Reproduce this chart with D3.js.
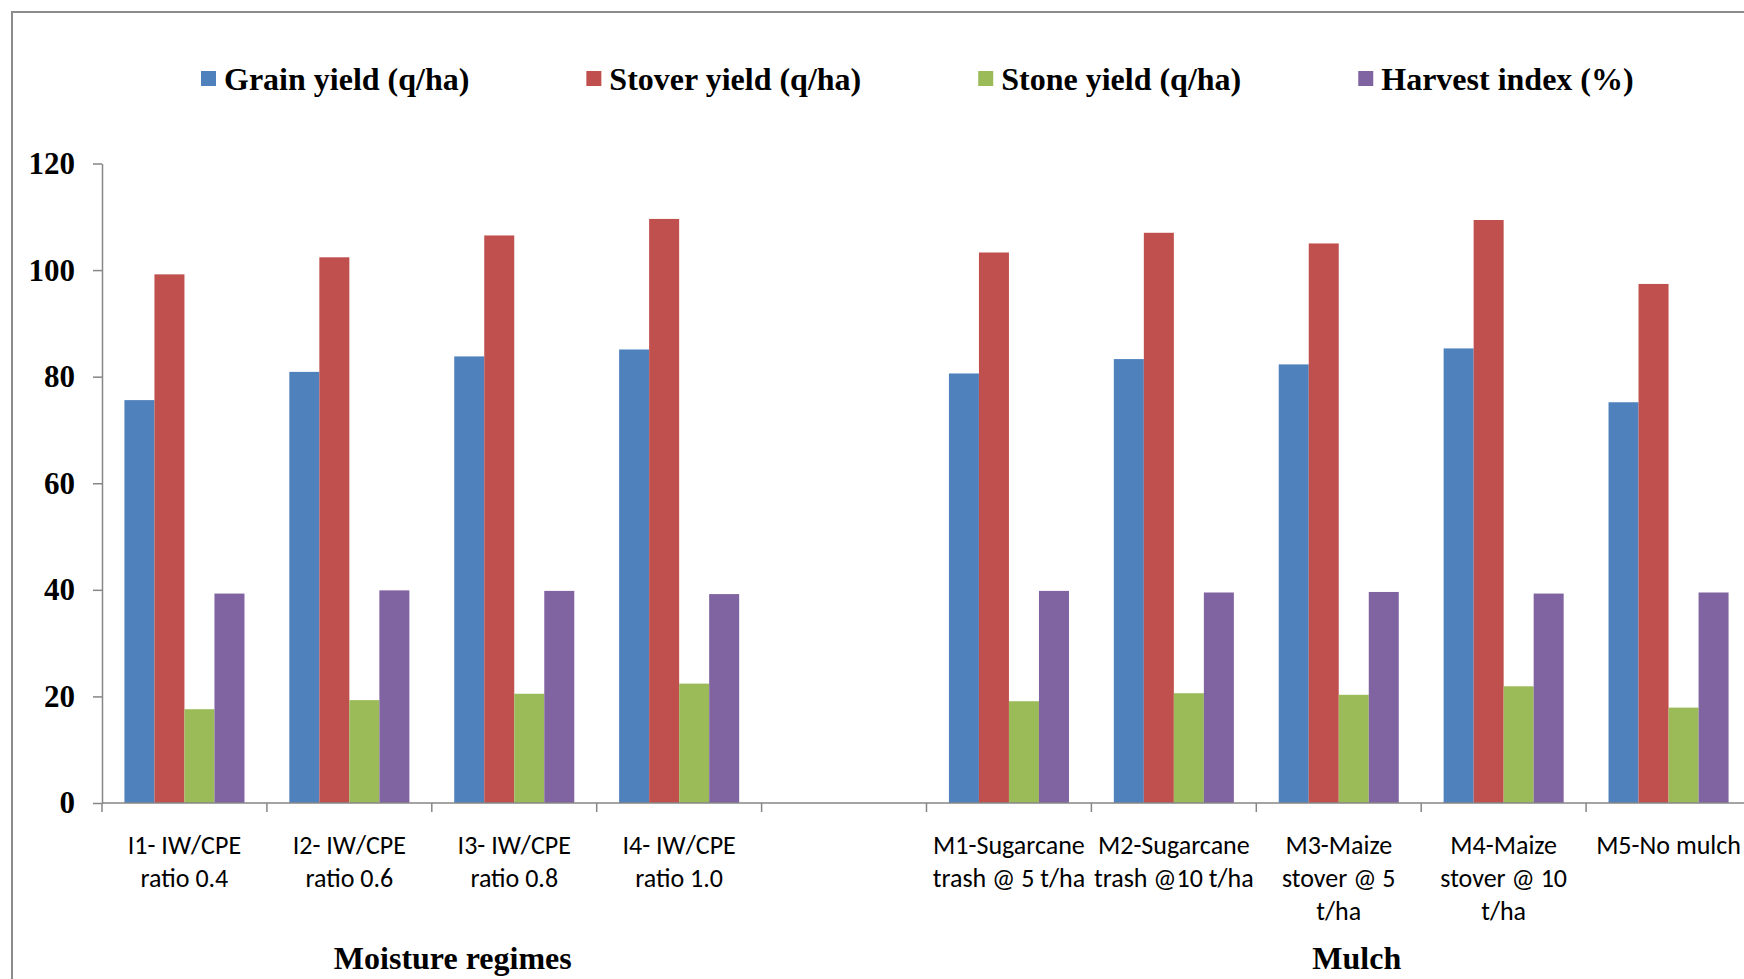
<!DOCTYPE html>
<html>
<head>
<meta charset="utf-8">
<script src="https://cdn.jsdelivr.net/npm/d3@7"></script>
<style>
  html, body { margin: 0; padding: 0; background: #fff; overflow: hidden; }
  svg { display: block; }
</style>
</head>
<body>
<svg id="chart" width="1744" height="979"></svg>
<script>
// Treatments (an empty slot separates the two factor groups)
const categories = [
  "I1- IW/CPE\nratio 0.4",
  "I2- IW/CPE\nratio 0.6",
  "I3- IW/CPE\nratio 0.8",
  "I4- IW/CPE\nratio 1.0",
  "",
  "M1-Sugarcane\ntrash @ 5 t/ha",
  "M2-Sugarcane\ntrash @10 t/ha",
  "M3-Maize\nstover @ 5\nt/ha",
  "M4-Maize\nstover @ 10\nt/ha",
  "M5-No mulch"
];

const seriesNames = ["Grain yield (q/ha)", "Stover yield (q/ha)", "Stone yield (q/ha)", "Harvest index (%)"];
const seriesColors = ["#4F81BD", "#C0504D", "#9BBB59", "#8064A2"];

const grainYield  = [75.6, 80.9, 83.8, 85.1, null, 80.6, 83.3, 82.3, 85.3, 75.2];
const stoverYield = [99.2, 102.4, 106.5, 109.6, null, 103.3, 107.0, 105.0, 109.4, 97.4];
const stoneYield  = [17.6, 19.3, 20.5, 22.4, null, 19.1, 20.6, 20.3, 21.9, 17.9];
const harvestIdx  = [39.3, 39.9, 39.8, 39.2, null, 39.8, 39.5, 39.6, 39.3, 39.5];

const yTicks = [0, 20, 40, 60, 80, 100, 120];

const groups = [
  { name: "Moisture regimes", first: 0, last: 3, shift: 21 },
  { name: "Mulch", first: 5, last: 9, shift: 18 }
];

const seriesValues = [grainYield, stoverYield, stoneYield, harvestIdx];

const svg = d3.select("#chart");
const serif = "'Liberation Serif', 'Times New Roman', serif";
const sans = "Carlito, Calibri, Lato, sans-serif";

// Outer frame of the chart area
svg.append("path")
  .attr("d", "M12,1000 L12,12 L1760,12")
  .attr("fill", "none")
  .attr("stroke", "#8c8c8c")
  .attr("stroke-width", 2);

const plotLeft = 102, plotBottom = 803, plotTop = 163.5;
const bandW = 164.9;

const x0 = d3.scaleBand()
  .domain(d3.range(categories.length))
  .range([plotLeft, plotLeft + bandW * categories.length])
  .paddingInner(0).paddingOuter(0);

const groupFrac = 0.728;
const x1 = d3.scaleBand()
  .domain(d3.range(seriesNames.length))
  .range([0, x0.bandwidth() * groupFrac]);
const groupOffset = x0.bandwidth() * (1 - groupFrac) / 2;

const y = d3.scaleLinear().domain([0, 120]).range([plotBottom, plotTop]);

// Bars
const cat = svg.append("g").selectAll("g")
  .data(categories.map((c, i) => i))
  .join("g")
  .attr("transform", i => `translate(${x0(i) + groupOffset},0)`);

cat.selectAll("rect")
  .data(i => seriesValues.map((vals, s) => ({ s, v: vals[i] })).filter(d => d.v != null))
  .join("rect")
  .attr("x", d => x1(d.s))
  .attr("width", x1.bandwidth())
  .attr("y", d => y(d.v))
  .attr("height", d => y(0) - y(d.v))
  .attr("fill", d => seriesColors[d.s]);

// Y axis
const yAxis = svg.append("g")
  .attr("transform", `translate(${plotLeft},0)`)
  .call(d3.axisLeft(y).tickValues(yTicks).tickSize(9).tickPadding(18).tickSizeOuter(0));
yAxis.select(".domain").attr("stroke", "#868686").attr("stroke-width", 1.5);
yAxis.selectAll(".tick line").attr("stroke", "#868686").attr("stroke-width", 1.5);
yAxis.selectAll(".tick text")
  .attr("font-family", serif)
  .attr("font-weight", "bold")
  .attr("font-size", 31)
  .attr("fill", "#000");

// X axis line and category boundary ticks
const xEnd = x0.range()[1];
svg.append("line")
  .attr("x1", plotLeft).attr("x2", xEnd)
  .attr("y1", y(0)).attr("y2", y(0))
  .attr("stroke", "#868686").attr("stroke-width", 1.5);

const bounds = categories.map((c, i) => x0(i)).concat([xEnd]);
svg.append("g").selectAll("line")
  .data(bounds)
  .join("line")
  .attr("x1", d => d).attr("x2", d => d)
  .attr("y1", y(0)).attr("y2", y(0) + 9)
  .attr("stroke", "#868686").attr("stroke-width", 1.5);

// Category labels
const labels = svg.append("g")
  .attr("font-family", sans)
  .attr("font-size", 26)
  .attr("fill", "#000")
  .attr("text-anchor", "middle");

categories.forEach((c, i) => {
  if (!c) return;
  const cx = x0(i) + x0.bandwidth() / 2;
  const t = labels.append("text").attr("x", cx).attr("y", 854);
  c.split("\n").forEach((line, k) => {
    t.append("tspan")
      .attr("x", cx)
      .attr("y", 854 + k * 33)
      .text(line);
  });
});

// Group titles
groups.forEach(g => {
  const cx = (x0(g.first) + x0(g.last) + x0.bandwidth()) / 2 + g.shift;
  svg.append("text")
    .attr("x", cx)
    .attr("y", 969)
    .attr("text-anchor", "middle")
    .attr("font-family", serif)
    .attr("font-weight", "bold")
    .attr("font-size", 32)
    .attr("fill", "#000")
    .text(g.name);
});

// Legend
const legend = svg.append("g");
let lx = 201;
seriesNames.forEach((name, s) => {
  legend.append("rect")
    .attr("x", lx).attr("y", 71)
    .attr("width", 15).attr("height", 15)
    .attr("fill", seriesColors[s]);
  const t = legend.append("text")
    .attr("x", lx + 23).attr("y", 90)
    .attr("font-family", serif)
    .attr("font-weight", "bold")
    .attr("font-size", 32)
    .attr("fill", "#000")
    .text(name);
  lx += 23 + t.node().getComputedTextLength() + 117;
});
</script>
</body>
</html>
